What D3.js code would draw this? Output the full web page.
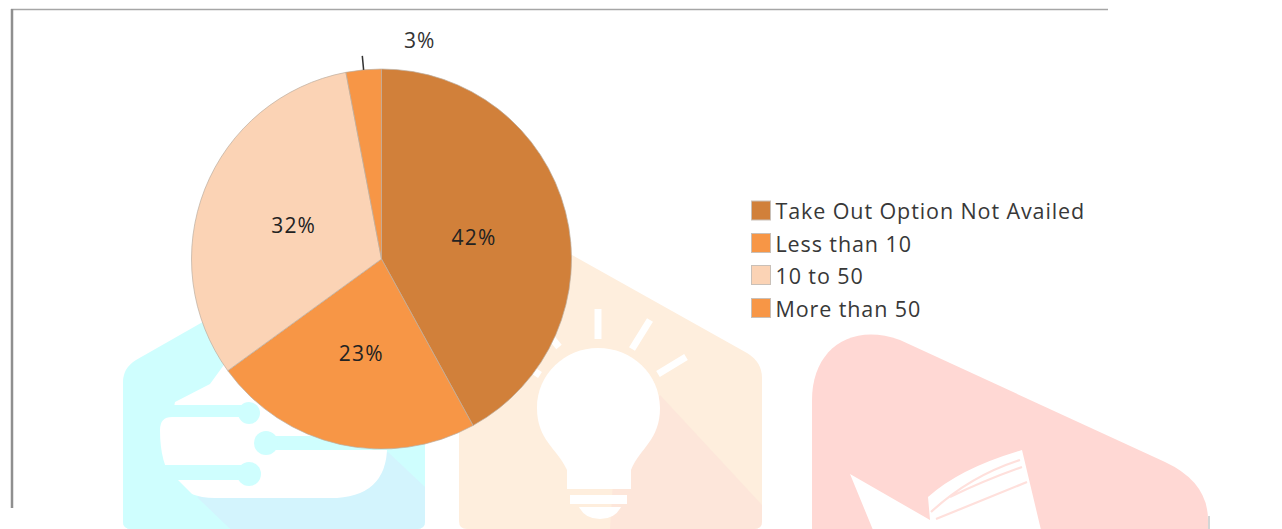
<!DOCTYPE html>
<html>
<head>
<meta charset="utf-8">
<script src="https://cdn.jsdelivr.net/npm/d3@7/dist/d3.min.js"></script>
<style>
  html, body { margin: 0; padding: 0; background: #fff; overflow: hidden; }
  svg { display: block; }
  text { font-family: "Open Sans", "Noto Sans", sans-serif; }
</style>
</head>
<body>
<svg id="chart" width="1282" height="529"></svg>
<script>
const categories = ["Take Out Option Not Availed", "Less than 10", "10 to 50", "More than 50"];
const shares = [42, 23, 32, 3];
const sliceColors = ["#d1803a", "#f79646", "#fbd3b5", "#f79646"];
const legendRows = [201, 233.5, 265.5, 298.5];

const svg = d3.select("#chart");

// Badge artwork sitting behind the chart
const art = svg.append("g").attr("class", "badges");

function badge(d, fill) { art.append("path").attr("d", d).attr("fill", fill); }

// Cyan badge with a circuit cloud
const cyan = "#cffefe";
badge("M123 521V382Q123 368 136 360L215 315L425 430V521Q425 529 417 529H131Q123 529 123 521Z", cyan);
badge("M197 497L388 452L425 487V521Q425 529 417 529H230Z", "#d3f4fd");
badge("M160 430Q160 417 172 417L175 402L210 384L226 362L300 400L387 440Q390 498 330 498H215Q160 498 160 430Z", "#ffffff");
art.append("rect").attr("x", 123).attr("y", 405).attr("width", 127).attr("height", 12).attr("fill", cyan);
art.append("circle").attr("cx", 249).attr("cy", 413).attr("r", 11).attr("fill", cyan);
art.append("rect").attr("x", 265).attr("y", 436).attr("width", 125).attr("height", 14).attr("fill", cyan);
art.append("circle").attr("cx", 266).attr("cy", 443).attr("r", 12).attr("fill", cyan);
art.append("rect").attr("x", 123).attr("y", 465).attr("width", 125).attr("height", 15).attr("fill", cyan);
art.append("circle").attr("cx", 249).attr("cy", 474).attr("r", 12).attr("fill", cyan);
badge("M123 480H178L195 497L230 529H131Q123 529 123 521Z", cyan);

// Peach badge with a light bulb
badge("M459 521V340L572 255L747 353Q762 362 762 378V521Q762 529 754 529H467Q459 529 459 521Z", "#feeedd");
badge("M660 395L762 505V521Q762 529 754 529H610L615 450Z", "#fde6da");
const bulb = "M598 348C632 348 660 374 660 408C660 440 640 448 631 470V489H567V470C557 448 537 440 537 408C537 374 565 348 598 348Z";
badge(bulb, "#ffffff");
badge("M570 495H627V504H570ZM579 507H621Q615 519 600 519Q585 519 579 507Z", "#ffffff");
[[598, 309, 598, 339], [650, 320, 632, 349], [686, 357, 658, 374], [545, 330, 559, 347], [520, 362, 540, 375]].forEach(r => {
  art.append("line").attr("x1", r[0]).attr("y1", r[1]).attr("x2", r[2]).attr("y2", r[3])
    .attr("stroke", "#fff").attr("stroke-width", 7);
});

// Pink badge with an open book
badge("M812 530V400C812 350 850 322 900 340L1165 462Q1208 482 1208 520V530Z", "#ffd8d4");
badge("M850 474L930 520L928 497Q960 468 1022 450L1041 530H873Z", "#ffffff");
art.append("path").attr("d", "M931 512Q970 476 1020 460M936 519L1027 482M950 497Q985 480 1022 467")
  .attr("fill", "none").attr("stroke", "#ffe0dc").attr("stroke-width", 2.2);
art.append("line").attr("x1", 1209).attr("y1", 516).attr("x2", 1209).attr("y2", 529)
  .attr("stroke", "#c4c8c8").attr("stroke-width", 1.5);

// Plot-area frame: top and left edges only
svg.append("line").attr("x1", 11).attr("y1", 9.5).attr("x2", 1108).attr("y2", 9.5)
  .attr("stroke", "#a6a6a6").attr("stroke-width", 1.5);
svg.append("line").attr("x1", 12).attr("y1", 9).attr("x2", 12).attr("y2", 508)
  .attr("stroke", "#8f8f8f").attr("stroke-width", 2.5);

// Pie
const cx = 381.5, cy = 259, radius = 190;
const pie = d3.pie().sort(null).value(d => d);
const arc = d3.arc().innerRadius(0).outerRadius(radius);
const arcs = pie(shares);
const chart = svg.append("g").attr("transform", `translate(${cx},${cy})`);

chart.selectAll("path").data(arcs).join("path")
  .attr("d", arc)
  .attr("fill", (d, i) => sliceColors[i])
  .attr("stroke", "#bcae9f")
  .attr("stroke-width", 0.7);

const label = d => d.value + "%";
const isOutside = d => d.value < 5;

chart.selectAll("text.inside").data(arcs.filter(d => !isOutside(d))).join("text")
  .attr("class", "inside")
  .attr("x", d => arc.centroid(d)[0] + 0.5)
  .attr("y", d => arc.centroid(d)[1] + 3.5)
  .attr("text-anchor", "middle")
  .attr("dominant-baseline", "middle")
  .attr("font-size", 21)
  .attr("letter-spacing", 1.2)
  .attr("fill", "#222")
  .text(label);

// Small slice: leader line and a label outside the pie
arcs.filter(isOutside).forEach(d => {
  const mid = (d.startAngle + d.endAngle) / 2;
  const pt = r => [Math.sin(mid) * r, -Math.cos(mid) * r];
  const a = pt(radius), b = pt(radius + 14);
  chart.append("line").attr("x1", a[0]).attr("y1", a[1]).attr("x2", b[0]).attr("y2", b[1])
    .attr("stroke", "#333").attr("stroke-width", 1.5);
  chart.append("text").attr("x", b[0] + 57.5).attr("y", b[1] - 13.5)
    .attr("text-anchor", "middle").attr("dominant-baseline", "middle")
    .attr("font-size", 21).attr("letter-spacing", 1.2).attr("fill", "#333").text(label(d));
});

// Legend
const legend = svg.append("g");
categories.forEach((name, i) => {
  legend.append("rect").attr("x", 751.5).attr("y", legendRows[i]).attr("width", 19).attr("height", 19)
    .attr("fill", sliceColors[i]).attr("stroke", "#c9c0b8").attr("stroke-width", 1);
  legend.append("text").attr("x", 775.5).attr("y", legendRows[i] + 18)
    .attr("font-size", 21.5).attr("letter-spacing", 0.9).attr("fill", "#383838").text(name);
});
</script>
</body>
</html>
